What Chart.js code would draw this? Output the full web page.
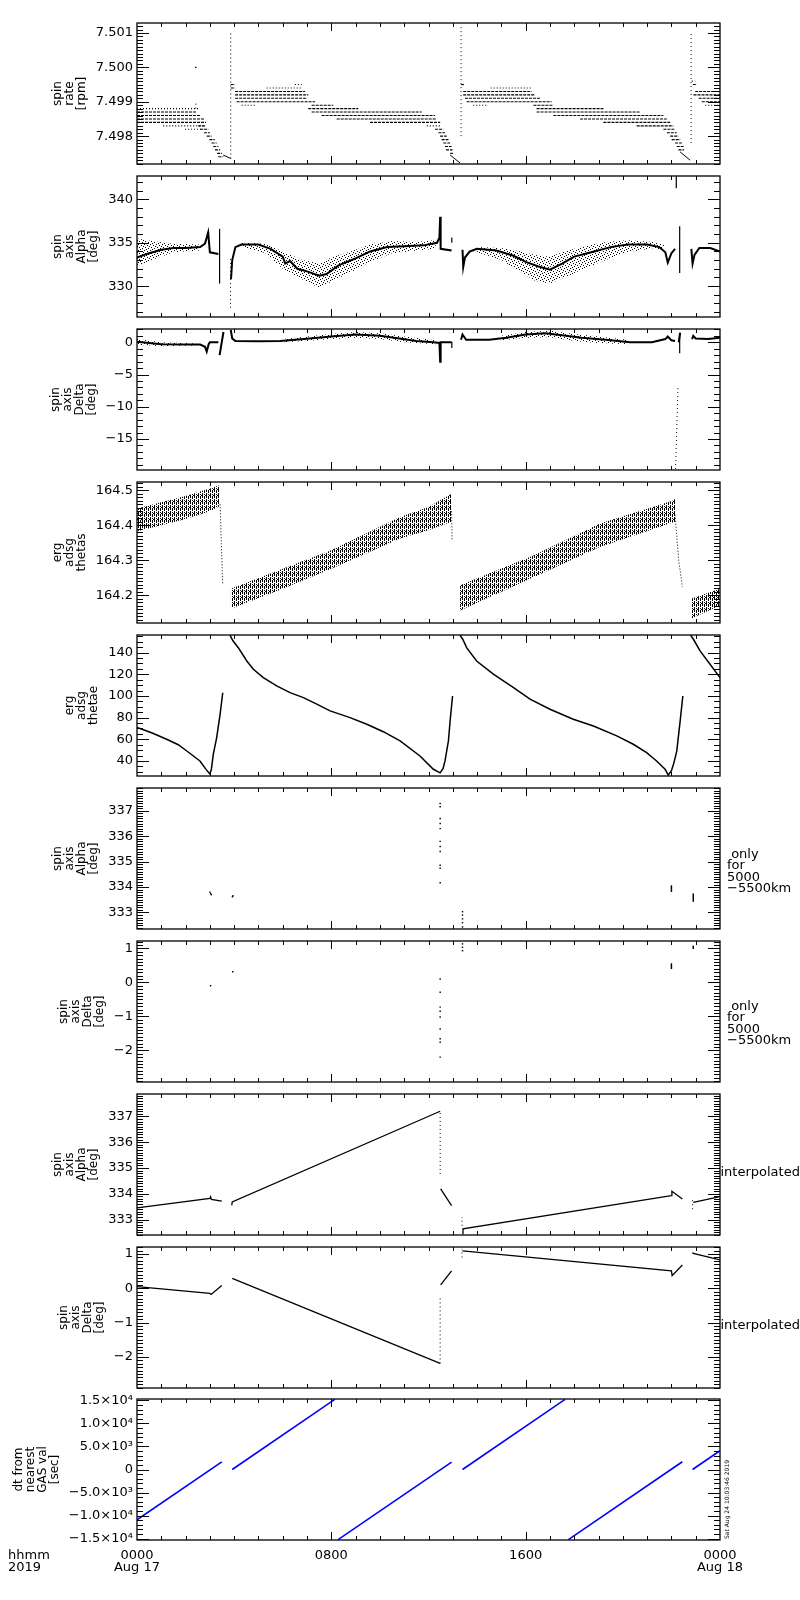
<!DOCTYPE html>
<html>
<head>
<meta charset="utf-8">
<script src="https://cdn.jsdelivr.net/npm/chart.js@4.4.0/dist/chart.umd.min.js"></script>
<style>
  body { margin: 0; background: #fff; width: 800px; height: 1600px; position: relative; overflow: hidden; }
  canvas { position: absolute; left: 0; }
</style>
</head>
<body>
<script>
// ---------- data (time in hours of Aug 17 2019) ----------
const xMajorLabels = [[0, '0000', 'Aug 17'], [8, '0800'], [16, '1600'], [24, '0000', 'Aug 18']];
const dtTickValues = [-15000, -10000, -5000, 0, 5000, 10000, 15000];
const dtTickLabels = ['\u22121.5\u00d710\u2074', '\u22121.0\u00d710\u2074', '\u22125.0\u00d710\u00b3', '0',
  '5.0\u00d710\u00b3', '1.0\u00d710\u2074', '1.5\u00d710\u2074'];

// spin rate [rpm]: quantised rows [t0, t1, rpm]
const rateRowsDense = [
  [0, 2.46, 7.4987], [0, 2.59, 7.4986], [0, 2.76, 7.4985], [0, 2.84, 7.4984],
  [2.52, 2.80, 7.4983], [2.60, 2.94, 7.4982], [2.76, 3.00, 7.4981], [2.87, 3.07, 7.4980],
  [2.98, 3.20, 7.4979], [3.07, 3.28, 7.4978], [3.14, 3.35, 7.4977], [3.21, 3.42, 7.4976],
  [3.30, 3.50, 7.4975], [3.35, 3.55, 7.4974],
  [3.86, 4.04, 7.4995], [3.86, 4.04, 7.4994],
  [4.04, 6.92, 7.4993], [4.04, 7.05, 7.4992], [4.04, 7.00, 7.4991], [4.10, 7.33, 7.4990],
  [7.19, 8.08, 7.4989], [7.05, 9.11, 7.4988], [7.19, 11.72, 7.4987], [7.60, 12.27, 7.4986],
  [8.22, 12.34, 7.4985], [9.59, 12.48, 7.4984],
  [12.27, 12.61, 7.4982], [12.41, 12.68, 7.4981], [12.48, 12.75, 7.4980], [12.54, 12.82, 7.4979],
  [12.61, 12.89, 7.4978], [12.68, 12.95, 7.4977], [12.72, 12.99, 7.4976], [12.89, 13.02, 7.4975],
  [13.34, 13.50, 7.4995], [13.43, 16.25, 7.4993], [13.43, 16.39, 7.4992], [13.50, 16.59, 7.4991],
  [13.57, 17.07, 7.4990], [16.32, 17.14, 7.4989], [16.45, 19.20, 7.4988], [16.45, 20.71, 7.4987],
  [17.14, 21.67, 7.4986], [18.24, 21.81, 7.4985], [19.20, 21.95, 7.4984], [20.57, 22.08, 7.4983],
  [21.67, 22.15, 7.4982], [21.81, 22.22, 7.4981], [21.95, 22.29, 7.4980], [22.01, 22.36, 7.4979],
  [22.15, 22.43, 7.4978], [22.22, 22.50, 7.4977], [22.29, 22.52, 7.4976],
  [22.88, 23.05, 7.4995], [22.98, 24, 7.4993], [22.91, 24, 7.4992], [23.12, 24, 7.4991], [23.25, 24, 7.4990]
];
const rateRowsSparse = [
  [0, 2.55, 7.4988], [1.08, 2.73, 7.4983], [1.98, 2.73, 7.4982],
  [5.34, 6.78, 7.4994], [6.50, 6.78, 7.4995], [4.31, 4.86, 7.4989],
  [11.93, 12.54, 7.4983], [14.56, 16.25, 7.4994], [13.84, 14.39, 7.4989],
  [22.84, 22.98, 7.4996], [23.39, 24, 7.4989]
];
const rateTails = [
  [[3.55, 7.49745], [3.86, 7.49735]],
  [[12.89, 7.49745], [13.30, 7.49722]],
  [[22.36, 7.49754], [22.77, 7.49730]]
];
const rateJumps = [[3.86, 7.49735, 7.50105], [13.34, 7.4980, 7.50122], [22.81, 7.4978, 7.50106], [2.42, 7.4988, 7.4990]];
const rateDots = [[2.42, 7.5000]];

// spin axis alpha [deg]
const alphaCore = [
  [[0, 333.3], [0.5, 333.8], [1, 334.2], [1.5, 334.4], [2, 334.4], [2.6, 334.5], [2.8, 334.9], [2.93, 336.2], [3.0, 333.9], [3.35, 333.7]],
  [[3.87, 330.8], [3.92, 333.0], [4.05, 334.5], [4.3, 334.8], [5.0, 334.8], [5.5, 334.3], [6.0, 333.4], [6.1, 332.6], [6.3, 332.9],
   [6.6, 332.0], [7.0, 331.7], [7.5, 331.2], [7.8, 331.4], [8.3, 332.4], [9.0, 333.2], [9.6, 334.0], [10.3, 334.5], [11.0, 334.6],
   [11.8, 334.7], [12.35, 335.0], [12.45, 335.6], [12.48, 338.0], [12.5, 334.3], [12.95, 334.1]],
  [[13.4, 334.2], [13.43, 332.2], [13.5, 333.3], [13.7, 334.0], [14.0, 334.3], [14.8, 334.1], [15.5, 333.5], [16.0, 332.8],
   [16.5, 332.3], [17.0, 331.9], [17.5, 332.6], [18.0, 333.4], [18.7, 333.9], [19.5, 334.5], [20.2, 334.8], [21.0, 334.8],
   [21.5, 334.5], [21.75, 333.9], [21.85, 332.7], [22.0, 333.8], [22.15, 334.3]],
  [[22.82, 334.3], [22.87, 332.6], [22.95, 333.6], [23.15, 334.4], [23.6, 334.4], [24, 334.0]]
];
const alphaSpread = [
  [[0, 332.3, 335.5], [0.6, 333.0, 335.2], [1.5, 333.9, 334.9], [2.6, 334.1, 334.8]],
  [[4.3, 334.5, 335.0], [5.3, 333.8, 334.9], [6.0, 332.0, 334.0], [6.8, 330.8, 333.0], [7.5, 329.8, 332.6], [8.0, 330.5, 333.3],
   [8.8, 331.6, 334.0], [9.6, 332.8, 334.8], [10.5, 333.8, 335.2], [11.5, 334.1, 335.1], [12.3, 334.3, 335.3]],
  [[14.0, 333.9, 334.5], [15.0, 333.0, 334.4], [15.8, 331.6, 334.0], [16.4, 330.6, 333.6], [17.0, 330.3, 333.4], [17.6, 331.0, 334.0],
   [18.4, 332.0, 334.6], [19.3, 333.0, 335.1], [20.2, 333.9, 335.3], [21.3, 334.4, 335.1], [21.7, 334.1, 334.7]]
];
const alphaJumps = [[3.4, 330.3, 336.6], [12.96, 335.0, 335.6], [22.2, 341.3, 342.7], [22.34, 331.5, 336.9]];
const alphaDotted = [[3.85, 327.5, 333.5]];

// spin axis delta [deg]
const deltaCore = [
  [[0, 0.1], [0.5, -0.1], [1, -0.3], [2, -0.35], [2.6, -0.35], [2.8, -0.7], [2.87, -1.45], [2.95, -0.3], [3.0, 0.0], [3.35, 0.0]],
  [[3.4, -2.0], [3.56, 1.6]],
  [[3.86, 1.9], [3.92, 0.6], [4.05, 0.2], [5.0, 0.15], [5.9, 0.2], [7.0, 0.55], [8.0, 0.9], [9.0, 1.2], [10.0, 1.0], [10.8, 0.6],
   [11.5, 0.2], [12.2, 0.0], [12.45, -0.1], [12.48, -3.0], [12.5, 0.0], [12.95, 0.0]],
  [[13.34, 0.4], [13.4, 1.2], [13.55, 0.4], [14.5, 0.4], [15.2, 0.7], [16.0, 1.2], [16.8, 1.4], [17.5, 1.1], [18.3, 0.7], [19.3, 0.4],
   [20.3, 0.0], [21.2, 0.0], [21.75, 0.5], [21.85, 0.9], [22.0, 0.3], [22.15, 0.2]],
  [[22.3, 0.0], [22.36, 1.5]],
  [[22.85, 0.5], [22.9, 1.0], [23.0, 0.6], [23.5, 0.5], [24, 0.7]]
];
const deltaSpread = [
  [[0, -0.4, 0.5], [1, -0.6, 0.0], [2.5, -0.5, -0.2]],
  [[6.0, 0.0, 0.5], [7.0, 0.2, 0.9], [8.0, 0.5, 1.3], [9.0, 0.7, 1.6], [10, 0.5, 1.4], [11, 0.0, 0.9], [12.3, -0.3, 0.3]],
  [[15, 0.3, 1.0], [16, 0.7, 1.6], [17, 0.8, 1.8], [18, 0.2, 1.3], [19, -0.1, 0.9], [20.2, -0.3, 0.4]]
];
const deltaJumps = [[12.96, -0.9, 0.1], [22.34, -1.7, 1.4]];
const deltaDotted = [[[22.27, -7.1], [22.17, -19.8]]];

// erg adsg thetas: bands [t, low, high]
const thetasBands = [
  [[0, 164.383, 164.448], [1, 164.400, 164.466], [2, 164.418, 164.484], [3, 164.440, 164.505], [3.42, 164.455, 164.515]],
  [[3.86, 164.162, 164.219], [6, 164.219, 164.276], [8, 164.276, 164.329], [10.83, 164.362, 164.424], [12.0, 164.386, 164.452], [12.95, 164.410, 164.490]],
  [[13.3, 164.157, 164.229], [16.32, 164.252, 164.314], [19.06, 164.338, 164.405], [22.08, 164.409, 164.471], [22.15, 164.410, 164.475]],
  [[22.8, 164.133, 164.190], [24, 164.171, 164.219]]
];
const thetasDrops = [
  [[3.42, 164.46], [3.47, 164.35], [3.53, 164.23]],
  [[12.95, 164.44], [12.97, 164.36]],
  [[22.15, 164.43], [22.3, 164.30], [22.45, 164.224]]
];

// erg adsg thetae
const thetaeCurves = [
  [[0, 71], [0.6, 66], [1.22, 60], [1.7, 55], [2.05, 49.2], [2.59, 40], [2.85, 32], [3.0, 28], [3.06, 32], [3.14, 46], [3.28, 61.5], [3.42, 83], [3.53, 103]],
  [[3.83, 156], [3.95, 151], [4.17, 144.6], [4.52, 132.3], [4.79, 124.7], [5.2, 116.9], [5.75, 109.3], [6.3, 103.1], [6.85, 98.5],
   [7.4, 92.4], [7.95, 86.2], [8.77, 80], [9.46, 73.9], [10.14, 67], [10.83, 58.5], [11.65, 44.6], [12.2, 32.3], [12.48, 29],
   [12.6, 33], [12.68, 40], [12.82, 58.5], [12.89, 77], [12.99, 100]],
  [[13.3, 156], [13.41, 152.4], [13.57, 144.6], [13.98, 132.3], [14.67, 120.1], [15.5, 107.8], [16.18, 97], [17.0, 87.7], [17.96, 78.5],
   [18.79, 72.3], [19.75, 63.1], [20.43, 55.4], [20.98, 47.7], [21.39, 40], [21.74, 32.3], [21.87, 27], [22.0, 31], [22.1, 38],
   [22.22, 49], [22.36, 77], [22.47, 100]],
  [[22.79, 156], [22.9, 152.6], [23.18, 141.6], [23.59, 129.3], [24, 116.9]]
];

// spin axis only for 5000-5500 km
const onlyAlphaDots = [[3.0, 333.8], [3.03, 333.75], [3.06, 333.7], [3.93, 333.62], [3.95, 333.66],
  [12.48, 337.29], [12.48, 337.16], [12.48, 336.7], [12.48, 336.5], [12.48, 336.3], [12.48, 335.8], [12.48, 335.6],
  [12.48, 335.4], [12.48, 334.86], [12.48, 334.74], [12.48, 334.17],
  [13.4, 333.03], [13.4, 332.9], [13.4, 332.75], [13.4, 332.6], [13.4, 332.43]];
const onlyAlphaRuns = [[22.0, 333.81, 334.07], [22.9, 333.42, 333.75]];
const onlyDeltaDots = [[3.03, -0.1], [3.94, 0.31], [12.48, 0.1], [12.48, -0.29], [12.48, -0.73], [12.48, -0.85], [12.48, -1.02],
  [12.48, -1.37], [12.48, -1.66], [12.48, -1.76], [12.48, -2.2], [13.4, 1.13], [13.4, 1.03], [13.4, 0.93]];
const onlyDeltaRuns = [[22.0, 0.39, 0.56], [22.9, 0.98, 1.08]];

// spin axis interpolated
const interpAlpha = [
  [[0, 333.45], [3.0, 333.82], [3.03, 333.88], [3.06, 333.78], [3.49, 333.71]],
  [[3.9, 333.55], [3.92, 333.68], [12.48, 337.2]],
  [[12.5, 334.19], [12.95, 333.54]],
  [[13.4, 332.44], [13.42, 332.64], [22.0, 333.93], [22.02, 334.1], [22.45, 333.8]],
  [[22.9, 333.67], [24, 333.89]]
];
const interpAlphaGaps = [[12.48, 334.77, 337.16], [13.38, 332.76, 333.09], [22.87, 333.4, 333.75]];
const interpDelta = [
  [[0, 0.05], [3.0, -0.15], [3.05, -0.18], [3.49, 0.08]],
  [[3.92, 0.29], [12.48, -2.19]],
  [[12.5, 0.1], [12.95, 0.51]],
  [[13.4, 1.09], [22.0, 0.51], [22.03, 0.37], [22.45, 0.68]],
  [[22.87, 1.05], [22.9, 1.02], [24, 0.83]]
];
const interpDeltaGaps = [[12.48, -2.19, -0.29], [13.38, 0.9, 1.15]];

// dt from nearest GAS val [sec]
const dtSegments = [
  [[0, -10900], [3.49, 1660]],
  [[3.92, 0], [8.14, 15200]],
  [[8.28, -15200], [12.95, 1610]],
  [[13.4, 0], [17.62, 15200]],
  [[17.76, -15200], [22.45, 1680]],
  [[22.87, 0], [24, 4070]]
];

// ---------- helpers ----------
const FONT = '"DejaVu Sans", sans-serif';
const minus = s => String(s).replace('-', '\u2212');

function makePattern(rows) {
  const c = document.createElement('canvas');
  c.width = rows[0].length; c.height = rows.length;
  const g = c.getContext('2d');
  g.fillStyle = '#000';
  rows.forEach((r, j) => [...r].forEach((ch, i) => { if (ch === 'x') g.fillRect(i, j, 1, 1); }));
  return g.createPattern(c, 'repeat');
}
const stipple = makePattern(['x.....', '...x..', '.....x', '.x....', '....x.', '..x...']);
const hatch = makePattern(['x.x.', 'x.x.', 'x...', '..x.', 'x.x.', '.xx.']);

const pts = a => a.map(([x, y]) => ({ x, y }));
function ln(data, o) {
  return Object.assign({ data: pts(data), borderColor: '#000', backgroundColor: '#000', borderWidth: 1.2,
    pointRadius: 0, pointBorderWidth: 0, fill: false, tension: 0 }, o);
}
const vert = ([t, a, b], o) => ln([[t, a], [t, b]], o);
const rows = (list, dash) => list.map(([t0, t1, v]) => ln([[t0, v], [t1, v]], { borderWidth: 1.1, borderDash: dash }));
const dots = (list) => ln(list, { showLine: false, pointRadius: 1, pointStyle: 'rect' });
function band(list, pattern) {
  return [
    ln(list.map(r => [r[0], r[2]]), { fill: '+1', backgroundColor: pattern, borderWidth: 0 }),
    ln(list.map(r => [r[0], r[1]]), { borderWidth: 0 })
  ];
}

// ---------- panels ----------
const onlyText = [' only', 'for', '5000', '\u22125500km'];
const panels = [
  { title: ['spin', 'rate', '[rpm]'], min: 7.49719, max: 7.50129, major: 0.001, minor: 0.0001, fmt: v => v.toFixed(3),
    sets: [...rows(rateRowsDense, [3, 1]), ...rows(rateRowsSparse, [1, 2]),
      ...rateTails.map(s => ln(s, { borderWidth: 1 })),
      ...rateJumps.map(j => vert(j, { borderWidth: 1, borderDash: [1, 3] })), dots(rateDots)] },
  { title: ['spin', 'axis', 'Alpha', '[deg]'], min: 326.44, max: 342.7, major: 5, minor: 1, fmt: v => v.toFixed(0),
    sets: [...alphaSpread.flatMap(s => band(s, stipple)), ...alphaCore.map(s => ln(s, { borderWidth: 2 })),
      ...alphaJumps.map(j => vert(j, { borderWidth: 1.2 })), ...alphaDotted.map(j => vert(j, { borderWidth: 1, borderDash: [1, 3] }))] },
  { title: ['spin', 'axis', 'Delta', '[deg]'], min: -19.8, max: 2.06, major: 5, minor: 1, fmt: v => minus(v.toFixed(0)),
    sets: [...deltaSpread.flatMap(s => band(s, stipple)), ...deltaCore.map(s => ln(s, { borderWidth: 2 })),
      ...deltaJumps.map(j => vert(j, { borderWidth: 1.2 })), ...deltaDotted.map(s => ln(s, { borderWidth: 1, borderDash: [1, 3] }))] },
  { title: ['erg', 'adsg', 'thetas'], min: 164.121, max: 164.5237, major: 0.1, minor: 0.01, fmt: v => v.toFixed(1),
    sets: [...thetasBands.flatMap(s => band(s, hatch)), ...thetasDrops.map(s => ln(s, { borderWidth: 1, borderDash: [1, 2] }))] },
  { title: ['erg', 'adsg', 'thetae'], min: 26.1, max: 156.3, major: 20, minor: 5, fmt: v => v.toFixed(0),
    sets: thetaeCurves.map(s => ln(s, { borderWidth: 1.5 })) },
  { title: ['spin', 'axis', 'Alpha', '[deg]'], min: 332.35, max: 337.9, major: 1, minor: 0.1, fmt: v => v.toFixed(0),
    side: onlyText, sideDy: -4,
    sets: [dots(onlyAlphaDots), ...onlyAlphaRuns.map(j => vert(j, { borderWidth: 1.5 }))] },
  { title: ['spin', 'axis', 'Delta', '[deg]'], min: -2.93, max: 1.215, major: 1, minor: 0.1, fmt: v => minus(v.toFixed(0)),
    side: onlyText, sideDy: -5,
    sets: [dots(onlyDeltaDots), ...onlyDeltaRuns.map(j => vert(j, { borderWidth: 1.5 }))] },
  { title: ['spin', 'axis', 'Alpha', '[deg]'], min: 332.4, max: 337.87, major: 1, minor: 0.1, fmt: v => v.toFixed(0),
    side: ['interpolated'], sideDy: 8, sideX: 720.5,
    sets: [...interpAlpha.map(s => ln(s, { borderWidth: 1.3 })), ...interpAlphaGaps.map(j => vert(j, { borderWidth: 1, borderDash: [1, 3] }))] },
  { title: ['spin', 'axis', 'Delta', '[deg]'], min: -2.907, max: 1.204, major: 1, minor: 0.1, fmt: v => minus(v.toFixed(0)),
    side: ['interpolated'], sideDy: 8, sideX: 720.5,
    sets: [...interpDelta.map(s => ln(s, { borderWidth: 1.3 })), ...interpDeltaGaps.map(j => vert(j, { borderWidth: 1, borderDash: [1, 3] }))] },
  { title: ['dt from', 'nearest', 'GAS val', '[sec]'], min: -15300, max: 15300, major: 5000, minor: 1000,
    tickValues: dtTickValues,
    fmt: v => { const k = dtTickValues.findIndex(t => Math.abs(t - v) < 1); return k < 0 ? '' : dtTickLabels[k]; },
    sets: dtSegments.map(s => ln(s, { borderColor: '#0000ff', borderWidth: 1.6 })) }
];

const PAD = 16, PH = 141, FOOT = 50;

function decor(p, last) {
  return {
    id: 'idlDecor',
    afterDraw(chart) {
      const { ctx, chartArea: a, scales: { x, y } } = chart;
      ctx.save();
      ctx.strokeStyle = '#000';
      ctx.lineWidth = 1.3;
      ctx.strokeRect(a.left, a.top, a.right - a.left, a.bottom - a.top);
      ctx.lineWidth = 1;
      ctx.beginPath();
      for (let h = 1; h < 24; h++) {
        const px = Math.round(x.getPixelForValue(h)) + 0.5;
        const len = h % 8 === 0 ? 8 : 4;
        ctx.moveTo(px, a.bottom); ctx.lineTo(px, a.bottom - len);
        ctx.moveTo(px, a.top); ctx.lineTo(px, a.top + len);
      }
      const k0 = Math.ceil(p.min / p.minor - 1e-9), k1 = Math.floor(p.max / p.minor + 1e-9);
      for (let k = k0; k <= k1; k++) {
        const r = k * p.minor / p.major;
        const len = Math.abs(r - Math.round(r)) < 1e-6 ? 12 : 6;
        const py = Math.round(y.getPixelForValue(k * p.minor)) + 0.5;
        ctx.moveTo(a.left, py); ctx.lineTo(a.left + len, py);
        ctx.moveTo(a.right, py); ctx.lineTo(a.right - len, py);
      }
      ctx.stroke();

      // rotated multi-line axis title, left of the tick labels
      ctx.fillStyle = '#000';
      ctx.font = '13px ' + FONT;
      const maxW = Math.max(...y.ticks.map(t => ctx.measureText(t.label).width));
      ctx.font = '12px ' + FONT;
      const lh = 12, n = p.title.length;
      const right = a.left - 4 - maxW - 8;
      const cy = (a.top + a.bottom) / 2;
      p.title.forEach((s, i) => {
        ctx.save();
        ctx.translate(right - (n - i - 0.5) * lh, cy);
        ctx.rotate(-Math.PI / 2);
        ctx.textAlign = 'center';
        ctx.textBaseline = 'middle';
        ctx.fillText(s, 0, 0);
        ctx.restore();
      });

      // note on the right
      if (p.side) {
        ctx.font = '13px ' + FONT;
        ctx.textAlign = 'left';
        ctx.textBaseline = 'middle';
        p.side.forEach((s, i) => ctx.fillText(s, p.sideX || 727, cy + p.sideDy + i * 11.5));
      }

      if (last) {
        ctx.font = '13px ' + FONT;
        ctx.textBaseline = 'alphabetic';
        ctx.textAlign = 'center';
        xMajorLabels.forEach(([h, l1, l2]) => {
          const px = x.getPixelForValue(h);
          ctx.fillText(l1, px, a.bottom + 19);
          if (l2) ctx.fillText(l2, px, a.bottom + 31);
        });
        ctx.textAlign = 'left';
        ctx.fillText('hhmm', 8, a.bottom + 19);
        ctx.fillText('2019', 8, a.bottom + 31);
        ctx.save();
        ctx.font = '6px ' + FONT;
        ctx.translate(a.right + 7, a.bottom - 1);
        ctx.rotate(-Math.PI / 2);
        ctx.textBaseline = 'middle';
        ctx.fillText('Sat Aug 24 10:03:46 2019', 0, 0);
        ctx.restore();
      }
      ctx.restore();
    }
  };
}

panels.forEach((p, i) => {
  const last = i === panels.length - 1;
  const top = Math.round(23.3 + 152.9 * i);
  const cv = document.createElement('canvas');
  const h = PH + 2 * PAD + (last ? FOOT : 0);
  cv.width = 800; cv.height = h;
  cv.style.top = (top - PAD) + 'px';
  cv.style.width = '800px'; cv.style.height = h + 'px';
  document.body.appendChild(cv);
  new Chart(cv, {
    type: 'line',
    data: { datasets: p.sets },
    options: {
      responsive: false,
      animation: false,
      events: [],
      layout: { padding: { left: 0, right: 80, top: PAD, bottom: PAD + (last ? FOOT : 0) } },
      plugins: { legend: { display: false }, tooltip: { enabled: false } },
      scales: {
        x: { type: 'linear', min: 0, max: 24, display: false },
        y: {
          type: 'linear', min: p.min, max: p.max,
          afterBuildTicks: s => { if (p.tickValues) s.ticks = p.tickValues.map(v => ({ value: v })); },
          afterFit: s => { s.width = 137; },
          grid: { display: false, drawTicks: false },
          border: { display: false },
          ticks: { stepSize: p.major, includeBounds: false, autoSkip: false, padding: 4, color: '#000',
            font: { family: FONT, size: 13 }, callback: v => p.fmt(v) }
        }
      }
    },
    plugins: [decor(p, last)]
  });
});
</script>
</body>
</html>
